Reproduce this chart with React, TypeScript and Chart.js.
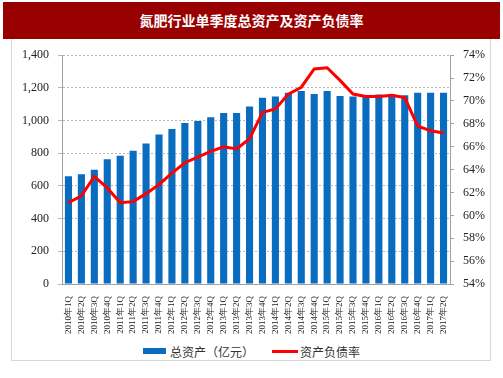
import React, { useEffect, useRef } from "react";
import { Chart, registerables } from "chart.js";
Chart.register(...registerables);

const TITLE = "氮肥行业单季度总资产及资产负债率";
const categories = [
  "2010年1Q", "2010年2Q", "2010年3Q", "2010年4Q",
  "2011年1Q", "2011年2Q", "2011年3Q", "2011年4Q",
  "2012年1Q", "2012年2Q", "2012年3Q", "2012年4Q",
  "2013年1Q", "2013年2Q", "2013年3Q", "2013年4Q",
  "2014年1Q", "2014年2Q", "2014年3Q", "2014年4Q",
  "2015年1Q", "2015年2Q", "2015年3Q", "2015年4Q",
  "2016年1Q", "2016年2Q", "2016年3Q", "2016年4Q",
  "2017年1Q", "2017年2Q",
];
const totalAssets = [
  659, 671, 699, 763, 785, 815, 859, 915, 949, 985,
  997, 1021, 1047, 1047, 1086, 1139, 1147, 1171, 1181, 1163,
  1181, 1151, 1147, 1145, 1159, 1159, 1155, 1171, 1171, 1171,
];
const debtRatio = [
  61.1, 61.7, 63.4, 62.4, 61.1, 61.2, 61.9, 62.7, 63.7, 64.6,
  65.1, 65.6, 66.0, 65.8, 66.7, 69.0, 69.3, 70.6, 71.2, 72.8,
  72.9, 71.8, 70.6, 70.4, 70.4, 70.5, 70.3, 67.8, 67.4, 67.2,
];
const seriesNames = ["总资产（亿元）", "资产负债率"];
const leftMin = 0, leftMax = 1400, leftStep = 200;
const rightMin = 54, rightMax = 74, rightStep = 2;

const BLUE = "#0a6cbf";
const RED = "#ff0000";
const SERIF = "'Liberation Serif', 'Times New Roman', serif";
const CJK = "'Noto Sans CJK SC', sans-serif";

export default function App() {
  const ref = useRef<HTMLCanvasElement | null>(null);
  useEffect(() => {
    if (!ref.current) return;
    const chart = new Chart(ref.current, {
      data: {
        labels: categories,
        datasets: [
          {
            type: "line",
            label: seriesNames[1],
            data: debtRatio,
            yAxisID: "y1",
            borderColor: RED,
            backgroundColor: RED,
            borderWidth: 3,
            pointRadius: 0,
            tension: 0,
            order: 0,
          },
          {
            type: "bar",
            label: seriesNames[0],
            data: totalAssets,
            yAxisID: "y",
            backgroundColor: BLUE,
            barPercentage: 0.55,
            categoryPercentage: 1,
            order: 1,
          },
        ],
      } as any,
      options: {
        animation: false,
        responsive: false,
        maintainAspectRatio: false,
        layout: { padding: { top: 12, left: 0, right: 0, bottom: 0 } },
        plugins: { legend: { display: false }, tooltip: { enabled: false }, title: { display: false } },
        scales: {
          x: {
            grid: { display: false },
            border: { display: true, color: "#a0a0a0" },
            ticks: {
              autoSkip: false,
              minRotation: 90,
              maxRotation: 90,
              padding: 4,
              color: "#222",
              font: { family: SERIF, size: 9 },
            },
            afterFit: (s: any) => { s.height = 55; },
          },
          y: {
            position: "left",
            min: leftMin,
            max: leftMax,
            ticks: {
              stepSize: leftStep,
              padding: 9,
              color: "#222",
              font: { family: SERIF, size: 12 },
              callback: (v: any) => Number(v).toLocaleString("en-US"),
            },
            grid: { color: "#b8b8b8", tickLength: 4 },
            border: { display: true, color: "#a0a0a0", dash: [2, 2] },
            afterFit: (s: any) => { s.width = 50; },
          },
          y1: {
            position: "right",
            min: rightMin,
            max: rightMax,
            ticks: {
              stepSize: rightStep,
              padding: 9,
              color: "#222",
              font: { family: SERIF, size: 12 },
              callback: (v: any) => v + "%",
            },
            grid: { drawOnChartArea: false, color: "#a0a0a0", tickLength: 4 },
            border: { display: true, color: "#a0a0a0" },
            afterFit: (s: any) => { s.width = 41; },
          },
        },
      } as any,
    });
    return () => chart.destroy();
  }, []);

  return (
    <div style={{ position: "absolute", left: 0, top: 0, width: 503, height: 378, background: "#fff", overflow: "hidden" }}>
      <div
        style={{
          position: "absolute", left: 3, top: 2, width: 497, height: 37,
          background: "#990000", color: "#fff", fontFamily: CJK, fontWeight: "bold",
          fontSize: 14, lineHeight: "37px", textAlign: "center",
        }}
      >
        {TITLE}
      </div>
      <div
        style={{
          position: "absolute", left: 11, top: 39, width: 480, height: 322,
          borderLeft: "1px solid #d8d8d8", borderRight: "1px solid #d8d8d8", borderBottom: "1px solid #d8d8d8",
          boxSizing: "border-box",
        }}
      />
      <canvas ref={ref} width={479} height={300} style={{ position: "absolute", left: 12, top: 39, width: 479, height: 300 }} />
      <div
        style={{
          position: "absolute", left: 0, top: 343, width: 503, height: 16,
          display: "flex", alignItems: "center", justifyContent: "center",
          fontFamily: CJK, fontSize: 12, color: "#333",
        }}
      >
        <span style={{ display: "inline-block", width: 23, height: 6, background: BLUE, marginRight: 4 }} />
        <span style={{ marginRight: 18 }}>{seriesNames[0]}</span>
        <span style={{ display: "inline-block", width: 26, height: 3, background: RED, marginRight: 2 }} />
        <span>{seriesNames[1]}</span>
      </div>
    </div>
  );
}
